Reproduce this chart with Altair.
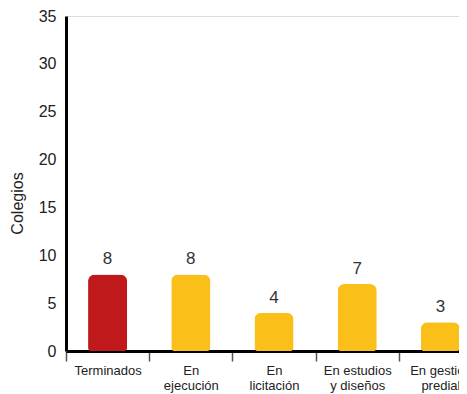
import altair as alt
import pandas as pd

categories = ["Terminados", "En|ejecución", "En|licitación", "En estudios|y diseños", "En gestión|predial"]
values = [8, 8, 4, 7, 3]
colors = ["#C0191C", "#FBBF1A", "#FBBF1A", "#FBBF1A", "#FBBF1A"]

df = pd.DataFrame({"cat": categories, "val": values, "color": colors})

FONT = "Liberation Sans"

x = alt.X("cat:N", sort=categories, title=None,
          scale=alt.Scale(range=[0, 416], paddingInner=0, paddingOuter=0),
          axis=alt.Axis(labelExpr="split(datum.label, '|')", labelAngle=0,
                        labelFont=FONT, labelFontSize=13, labelColor="#222",
                        labelLineHeight=15, labelPadding=3, labelBaseline="top",
                        labelOverlap=False,
                        domainColor="#000", domainWidth=3,
                        tickColor="#555", tickWidth=1.5, tickSize=10,
                        tickBand="extent"))

bars = alt.Chart(df).mark_bar(
    width=alt.RelativeBandSize(0.47),
    cornerRadiusTopLeft=7, cornerRadiusTopRight=7,
    cornerRadiusBottomLeft=3, cornerRadiusBottomRight=3
).encode(
    x=x,
    y=alt.Y("val:Q", title="Colegios",
            scale=alt.Scale(domain=[0, 35]),
            axis=alt.Axis(values=[0, 5, 10, 15, 20, 25, 30, 35], grid=False, ticks=False,
                          labelFont=FONT, labelFontSize=16, labelColor="#222", labelPadding=10,
                          domainColor="#000", domainWidth=3,
                          titleFont=FONT, titleFontSize=16, titleFontWeight="normal",
                          titleColor="#222", titleX=-49, titleY=187, titleBaseline="middle",
                          titleAngle=-90)),
    color=alt.Color("color:N", scale=None),
)

text = alt.Chart(df).mark_text(dy=-15, font=FONT, fontSize=17, color="#333").encode(
    x=alt.X("cat:N", sort=categories),
    y="val:Q",
    text="val:Q",
)

chart = (bars + text).properties(
    width=393, height=335,
    autosize=alt.AutoSizeParams(type="none"),
    padding={"left": 58, "top": 8, "right": 0, "bottom": 43},
).configure_view(stroke=None).configure(background="#ffffff")

chart.save("out.html", embed_options={"renderer": "svg", "actions": False})
